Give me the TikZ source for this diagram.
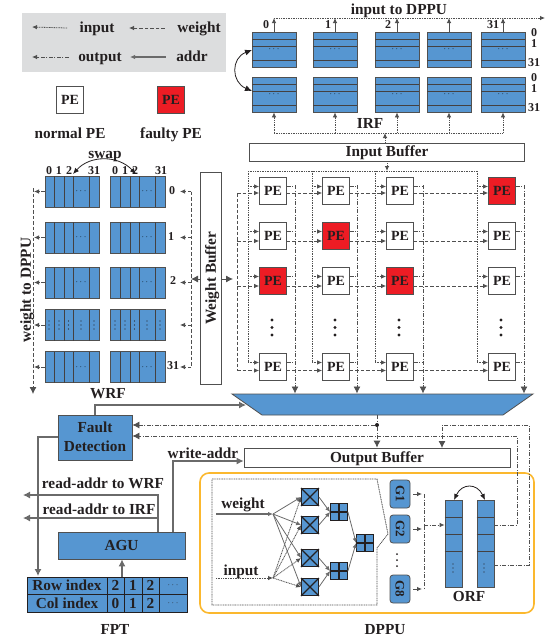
\documentclass[tikz,border=0pt]{standalone}
\usepackage{fontspec}
\setmainfont{Liberation Serif}
\usetikzlibrary{arrows.meta}
\definecolor{regblue}{HTML}{5696D1}
\definecolor{facered}{HTML}{ED1C24}
\definecolor{legendgray}{HTML}{DCDDDE}
\definecolor{dppuyellow}{HTML}{FBB82E}
\definecolor{wiregray}{HTML}{505050}
\definecolor{inktext}{HTML}{231F20}
\tikzset{
  lab/.style={font=\fontsize{15.3}{16}\selectfont\bfseries, text=inktext, text height=13pt, text depth=3.5pt},
  smalllab/.style={font=\fontsize{12}{12}\selectfont\bfseries, text=inktext},
  regbox/.style={draw=wiregray, thick, fill=regblue, inner sep=0pt, font=\fontsize{9}{9}\selectfont},
  pe/.style={draw=wiregray, thick, fill=white, minimum size=27pt, inner sep=0pt, font=\fontsize{14}{14}\selectfont\bfseries, text=inktext},
  pefault/.style={pe, fill=facered},
  bufbox/.style={draw=wiregray, thick, fill=white, inner sep=0pt, lab},
  blockbox/.style={draw=wiregray, thick, fill=regblue, inner sep=0pt, lab},
  opbox/.style={draw=inktext, thick, fill=regblue, minimum size=17pt, inner sep=0pt},
  regline/.style={draw=inktext!85, line width=0.9pt},
  tip/.style={-{Latex[length=5pt,width=4.5pt]}},
  bigtip/.style={-{Latex[length=7pt,width=7pt]}},
  inputline/.style={wiregray, line width=0.8pt, dash pattern=on 1pt off 0.7pt},
  weightline/.style={wiregray, line width=0.8pt, dash pattern=on 3.5pt off 2pt},
  outputline/.style={wiregray, line width=0.8pt, dash pattern=on 4pt off 1.5pt on 1pt off 1.5pt},
  addrline/.style={wiregray!85, line width=1.1pt},
}
\begin{document}
\begin{tikzpicture}[x=1pt, y=-1pt]
  \useasboundingbox (0,0) rectangle (554,641);

  % Leyenda
  \node[fill=legendgray, minimum width=204pt, minimum height=59pt, inner sep=0pt] (legend) at (124,42.5) {};
  \node[lab] (lginput) at (97,28) {input};
  \node[lab] (lgweight) at (199,28) {weight};
  \node[lab] (lgoutput) at (100,57) {output};
  \node[lab] (lgaddr) at (192,57) {addr};
  \coordinate (lga) at (32,27);
  \coordinate (lgb) at (129,28);
  \coordinate (lgc) at (32,57);
  \coordinate (lgd) at (130,57);
  \draw[inputline, tip] (lginput.west) ++(-9,0) -- (lga);
  \draw[weightline, tip] (lgweight.west) ++(-9,0) -- (lgb);
  \draw[outputline, tip] (lgoutput.west) ++(-6,0) -- (lgc);
  \draw[addrline, tip] (lgaddr.west) ++(-7,0) -- (lgd);
  \node[pe] (lgpe) at (70,100) {PE};
  \node[pefault] (lgfault) at (171,100) {PE};
  \node[lab] (lgnormal) at (70,134) {normal PE};
  \node[lab] (lgfaulty) at (171,134) {faulty PE};

  % Banco IRF
  \foreach \n/\x in {a/274,b/335,c/397,d/449,e/503} {
    \node[regbox, minimum width=44pt, minimum height=35pt] (irft\n) at (\x,49.5) {$\cdots$};
    \node[regbox, minimum width=44pt, minimum height=35pt] (irfb\n) at (\x,94.5) {$\cdots$};
    \foreach \y in {39,46.5,60,84,91.5,105}
      \draw[regline] ({\x-22},\y) -- ({\x+22},\y);
    \coordinate (dppu\n) at (\x,18);
    \coordinate (ibus\n) at (\x,133);
    \draw[wiregray, thick, tip] (irft\n.north) -- (dppu\n);
    \draw[inputline, tip] (ibus\n) -- (irfb\n.south);
  }
  \coordinate (dppuend) at (545,18);
  \draw[inputline, tip] (dppua) -- (dppuend);
  \draw[inputline] (ibusa) -- (ibuse);
  \node[lab] (irftitle) at (399,10) {input to DPPU};
  \node[smalllab] (irfc0) at (266,25) {0};
  \node[smalllab] (irfc1) at (328,25) {1};
  \node[smalllab] (irfc2) at (388,25) {2};
  \node[smalllab] (irfc31) at (493,25) {31};
  \foreach \n/\t/\y in {a/0/33,b/1/44,c/31/63,d/0/78,e/1/89,f/31/108}
    \node[smalllab] (irfr\n) at (534,\y) {\t};
  \node[lab] (irflabel) at (370,124) {IRF};
  \coordinate (irfsa) at (252,50);
  \coordinate (irfsb) at (252,91);
  \draw[inktext, thick, {Latex[length=7pt,width=6pt]}-{Latex[length=7pt,width=6pt]}] (irfsa) .. controls (231,58) and (231,82) .. (irfsb);

  % Input Buffer
  \node[bufbox, minimum width=275pt, minimum height=18pt] (inbuf) at (387,152) {Input Buffer};
  \coordinate (inbusup) at (385,133);
  \coordinate (inbusdn) at (387,171);
  \draw[inputline, tip] ([xshift=-2pt]inbuf.north) -- (inbusup);
  \draw[inputline, tip] (inbuf.south) -- (inbusdn);

  % Banco WRF
  \foreach \r/\y in {0/191.5,1/237.5,2/282.5,3/325,4/367} {
    \node[regbox, minimum width=54pt, minimum height=31pt] (wrfl\r) at (72,\y) {};
    \node[regbox, minimum width=55pt, minimum height=31pt] (wrfr\r) at (137.5,\y) {};
    \foreach \x in {54,64,73,89,120,130,139,155}
      \draw[regline] (\x,{\y-15.5}) -- (\x,{\y+15.5});
    \coordinate (wbl\r) at (34,\y);
    \coordinate (wbr\r) at (191,\y);
    \coordinate (wlab\r) at (180,\y);
    \draw[weightline, tip] (wrfl\r.west) -- (wbl\r);
    \draw[weightline, tip] (wbr\r) -- (wlab\r);
  }
  \foreach \r/\y in {0/191.5,1/237.5,2/282.5,4/367} {
    \node[font=\fontsize{9}{9}\selectfont] (wdl\r) at (81,\y) {$\cdots$};
    \node[font=\fontsize{9}{9}\selectfont] (wdr\r) at (147,\y) {$\cdots$};
  }
  \foreach \x in {49,59,68.5,81,94,115,125,134.5,147,160}
    \foreach \y in {321,325,329}
      \fill[inktext] (\x,\y) circle (0.7);
  \foreach \n/\t/\x in {a/0/49,b/1/59,c/2/69,d/31/94,e/0/115,f/1/125,g/2/135,h/31/161}
    \node[smalllab] (wc\n) at (\x,170.5) {\t};
  \node[smalllab] (wr0) at (172,191) {0};
  \node[smalllab] (wr1) at (171,237) {1};
  \node[smalllab] (wr2) at (173,281) {2};
  \node[smalllab] (wr31) at (173,366) {31};
  \node[lab] (swaplab) at (105,154) {swap};
  \coordinate (swapa) at (73,174);
  \coordinate (swapb) at (136,174);
  \draw[inktext, thick, {Latex[length=6pt,width=5pt]}-{Latex[length=6pt,width=5pt]}] (swapa) .. controls (90,155) and (118,155) .. (swapb);
  \coordinate (wbtop) at (33,188);
  \coordinate (wbend) at (33,394);
  \draw[weightline, bigtip] (wbtop) -- (wbend);
  \node[lab, rotate=90] (wtodppu) at (26,290) {weight to DPPU};
  \node[lab] (wrflabel) at (108,394) {WRF};

  % Weight Buffer
  \node[bufbox, minimum width=21pt, minimum height=212pt] (wbuf) at (211,278) {};
  \node[lab, rotate=90] (wbuftext) at (211,278) {Weight Buffer};
  \coordinate (wbleft) at (191,279);
  \coordinate (wbright) at (233,279);
  \draw[weightline] (wbr0) -- (wbr4);
  \draw[wiregray, thick, bigtip] (wbuf.west |- wbleft) -- (wbleft);
  \draw[wiregray, thick, bigtip] (wbuf.east |- wbright) -- (wbright);

  % Matriz de PE
  \node[pe] (pea1) at (273,191) {PE};
  \node[pe] (peb1) at (336,191) {PE};
  \node[pe] (pec1) at (400,191) {PE};
  \node[pefault] (ped1) at (502,191) {PE};
  \node[pe] (pea2) at (273,236) {PE};
  \node[pefault] (peb2) at (336,236) {PE};
  \node[pe] (pec2) at (400,236) {PE};
  \node[pe] (ped2) at (502,236) {PE};
  \node[pefault] (pea3) at (273,281) {PE};
  \node[pe] (peb3) at (336,281) {PE};
  \node[pefault] (pec3) at (400,281) {PE};
  \node[pe] (ped3) at (502,281) {PE};
  \node[pe] (pea4) at (273,367) {PE};
  \node[pe] (peb4) at (336,367) {PE};
  \node[pe] (pec4) at (400,367) {PE};
  \node[pe] (ped4) at (502,367) {PE};
  \foreach \x in {272,335,399,501}
    \foreach \y in {320,327.5,335}
      \fill[inktext] (\x,\y) circle (1.6);

  % Buses de entrada
  \foreach \c/\b in {a/248,b/312,c/375,d/477} {
    \coordinate (top\c) at (\b,171);
    \coordinate (low\c) at (\b,363);
    \draw[inputline] (top\c) -- (low\c);
    \foreach \r in {1,2,3,4} {
      \coordinate (pin\c\r) at ([yshift=4.5pt]pe\c\r.west);
      \draw[inputline, tip] (pin\c\r -| top\c) -- (pin\c\r);
    }
  }
  \draw[inputline] (topa) -- (topd);

  % Buses de pesos
  \coordinate (wltop) at (237,193);
  \coordinate (wllow) at (237,370.5);
  \draw[weightline] (wltop) -- (wllow);
  \foreach \r/\w in {1/2,2/5,3/5,4/3.5} {
    \path (pea\r.west) ++(0,\w) coordinate (wa\r);
    \draw[weightline, tip] (wa\r -| wltop) -- (wa\r);
    \foreach \c/\d in {a/b,b/c,c/d} {
      \path (pe\d\r.west) ++(0,\w) coordinate (wnext);
      \draw[weightline, tip] (wnext -| pe\c\r.east) -- (wnext);
    }
  }

  % Buses de salida
  \foreach \c/\o in {a/295,b/357,c/423,d/524} {
    \coordinate (outtop\c) at (\o,185);
    \coordinate (outend\c) at (\o,393.5);
    \draw[outputline, bigtip] (outtop\c) -- (outend\c);
    \foreach \r in {1,2,3,4} {
      \coordinate (pout\c\r) at ([yshift=4.5pt]pe\c\r.east);
      \draw[outputline] (pout\c\r) -- (pout\c\r -| outtop\c);
    }
  }

  % Multiplexor
  \coordinate (muxa) at (232,394);
  \coordinate (muxb) at (533,394);
  \coordinate (muxc) at (503,415);
  \coordinate (muxd) at (262,415);
  \coordinate (muxout) at (377,415);
  \coordinate (muxin) at (246,405);
  \draw[draw=wiregray, thick, fill=regblue] (muxa) -- (muxb) -- (muxc) -- (muxd) -- cycle;

  % Output Buffer y Fault Detection
  \node[bufbox, minimum width=266pt, minimum height=19pt] (outbuf) at (377,457.5) {Output Buffer};
  \node[blockbox, minimum width=74pt, minimum height=45pt] (fault) at (95,437.5) {};
  \node[lab] (faulta) at (95,428) {Fault};
  \node[lab] (faultb) at (95,447) {Detection};
  \node[circle, fill=inktext, minimum size=4pt, inner sep=0pt] (join) at (377,425) {};
  \draw[outputline] (muxout) -- (join);
  \draw[outputline, bigtip] (join) -- (outbuf.north);
  \draw[outputline, bigtip] (join) -- (join -| fault.east);
  \draw[addrline, bigtip] (fault.north) |- (muxin);

  % AGU y FPT
  \node[blockbox, minimum width=127pt, minimum height=27pt] (agu) at (121.5,545.5) {AGU};
  \foreach \n/\x/\w/\a/\b in {a/67/80/Row index/Col index,b/115.5/17/2/0,c/133/18/1/1,d/150.5/17/2/2} {
    \node[blockbox, draw=inktext, minimum width=\w pt, minimum height=17.5pt] (fpr\n) at (\x,585.75) {\a};
    \node[blockbox, draw=inktext, minimum width=\w pt, minimum height=17.5pt] (fpc\n) at (\x,603.25) {\b};
  }
  \node[blockbox, draw=inktext, minimum width=28pt, minimum height=17.5pt, font=\fontsize{9}{9}\selectfont, text height=4pt, text depth=0pt] (fpre) at (173,585.75) {$\cdots$};
  \node[blockbox, draw=inktext, minimum width=28pt, minimum height=17.5pt, font=\fontsize{9}{9}\selectfont, text height=4pt, text depth=0pt] (fpce) at (173,603.25) {$\cdots$};
  \node[lab] (fptlabel) at (115,630) {FPT};
  \coordinate (fptin) at (38,576);
  \coordinate (fdout) at (58,437);
  \draw[addrline, bigtip] (fdout) -| (fptin);
  \coordinate (fpttop) at (122,577);
  \draw[addrline, bigtip] (fpttop) -- (agu.south -| fpttop);
  \coordinate (raddr) at (158,532);
  \coordinate (rwrf) at (23,495);
  \coordinate (rirf) at (23,518);
  \coordinate (waddr) at (173,532);
  \draw[addrline, bigtip] (raddr) |- (rwrf);
  \draw[addrline, bigtip] (raddr |- rirf) -- (rirf);
  \draw[addrline, bigtip] (waddr) |- (outbuf.west |- 0,461);
  \node[lab] (rwrflab) at (103,484) {read-addr to WRF};
  \node[lab] (rirflab) at (99,510) {read-addr to IRF};
  \node[lab] (waddrlab) at (203,454) {write-addr};

  % DPPU
  \node[draw=dppuyellow, line width=1.6pt, rounded corners=9pt, minimum width=334pt, minimum height=140pt] (dppubox) at (367,543) {};
  \node[lab] (dppulabel) at (385,630) {DPPU};
  \coordinate (pba) at (212,479);
  \coordinate (pbb) at (377,479);
  \coordinate (pbc) at (388,534);
  \coordinate (pbd) at (377,548);
  \coordinate (pbe) at (377,605);
  \coordinate (pbf) at (212,605);
  \draw[inputline] (pba) -- (pbb) -- (pbc) -- (pbd) -- (pbe) -- (pbf) -- cycle;
  \node[opbox] (m1) at (310,497) {};
  \node[opbox] (m2) at (310,525) {};
  \node[opbox] (m3) at (310,558) {};
  \node[opbox] (m4) at (310,587) {};
  \node[opbox] (p1) at (339,512) {};
  \node[opbox] (p2) at (339,571) {};
  \node[opbox] (p3) at (365,543) {};
  \foreach \n in {m1,m2,m3,m4} {
    \draw[inktext, line width=1.1pt] (\n.north west) -- (\n.south east);
    \draw[inktext, line width=1.1pt] (\n.south west) -- (\n.north east);
  }
  \foreach \n in {p1,p2,p3} {
    \draw[inktext, line width=1.1pt] (\n.north) -- (\n.south);
    \draw[inktext, line width=1.1pt] (\n.west) -- (\n.east);
  }
  \node[lab] (wgttext) at (243,504) {weight};
  \node[lab] (inptext) at (241,571) {input};
  \coordinate (wgtin) at (216,514);
  \coordinate (wgtj) at (273,514);
  \coordinate (inpin) at (216,578);
  \coordinate (inpj) at (273,578);
  \draw[addrline, tip] (wgtin) -- (wgtj);
  \draw[inputline, tip] (inpin) -- (inpj);
  \foreach \n in {m1,m2,m3,m4} {
    \draw[inputline, tip] (inpj) -- (\n.west);
    \draw[addrline, line width=0.8pt, tip] (wgtj) -- (\n.west);
  }
  \draw[addrline, line width=0.8pt, tip] (m1.east) -- (p1.west);
  \draw[addrline, line width=0.8pt, tip] (m2.east) -- (p1.west);
  \draw[addrline, line width=0.8pt, tip] (m3.east) -- (p2.west);
  \draw[addrline, line width=0.8pt, tip] (m4.east) -- (p2.west);
  \draw[addrline, line width=0.8pt, tip] (p1.east) -- (p3.west);
  \draw[addrline, line width=0.8pt, tip] (p2.east) -- (p3.west);

  % Grupos G y ORF
  \foreach \n/\y in {1/494,2/529,8/589} {
    \node[draw=wiregray, thick, fill=regblue, rounded corners=3pt, minimum width=20pt, minimum height=28pt, inner sep=0pt] (g\n) at (400,\y) {};
    \node[smalllab, font=\fontsize{13}{13}\selectfont\bfseries, rotate=-90] (gt\n) at (400,\y) {G\n};
    \coordinate (gbus\n) at (424,\y);
    \draw[outputline, tip] (g\n.east) ++(3,0) -- ([xshift=-2pt]gbus\n);
  }
  \foreach \y in {554,560,566}
    \fill[inktext] (397,\y) circle (1);
  \draw[outputline] (gbus1) -- (gbus8);
  \node[regbox, minimum width=17pt, minimum height=87pt] (orfl) at (453.5,543.5) {};
  \node[regbox, minimum width=17pt, minimum height=87pt] (orfr) at (485.5,543.5) {};
  \foreach \y in {517,534,551}
    \draw[regline] (orfl.west |- 0,\y) -- (orfl.east |- 0,\y) (orfr.west |- 0,\y) -- (orfr.east |- 0,\y);
  \foreach \y in {564,568,572} {
    \fill[inktext] (453,\y) circle (0.7);
    \fill[inktext] (484,\y) circle (0.7);
  }
  \node[lab] (orflabel) at (469,597) {ORF};
  \coordinate (gjoin) at (424,525);
  \draw[outputline, tip] (gjoin) -- (gjoin -| orfl.west);
  \coordinate (orfsa) at (454,500);
  \coordinate (orfsb) at (485,500);
  \draw[inktext, thick, {Latex[length=6pt,width=5pt]}-{Latex[length=6pt,width=5pt]}] (orfsa) .. controls (462,483) and (477,483) .. (orfsb);

  % Retornos del ORF
  \coordinate (ra) at (494,525);
  \coordinate (rb) at (517,525);
  \coordinate (rc) at (517,436);
  \coordinate (rd) at (494,565);
  \coordinate (re) at (529,565);
  \coordinate (rf) at (529,425);
  \coordinate (rg) at (442,425);
  \coordinate (rh) at (442,448);
  \draw[outputline, bigtip] (ra) -- (rb) -- (rc) -- (rc -| fault.east);
  \draw[outputline, bigtip] (rd) -- (re) -- (rf) -- (rg) -- (rh);
\end{tikzpicture}
\end{document}
